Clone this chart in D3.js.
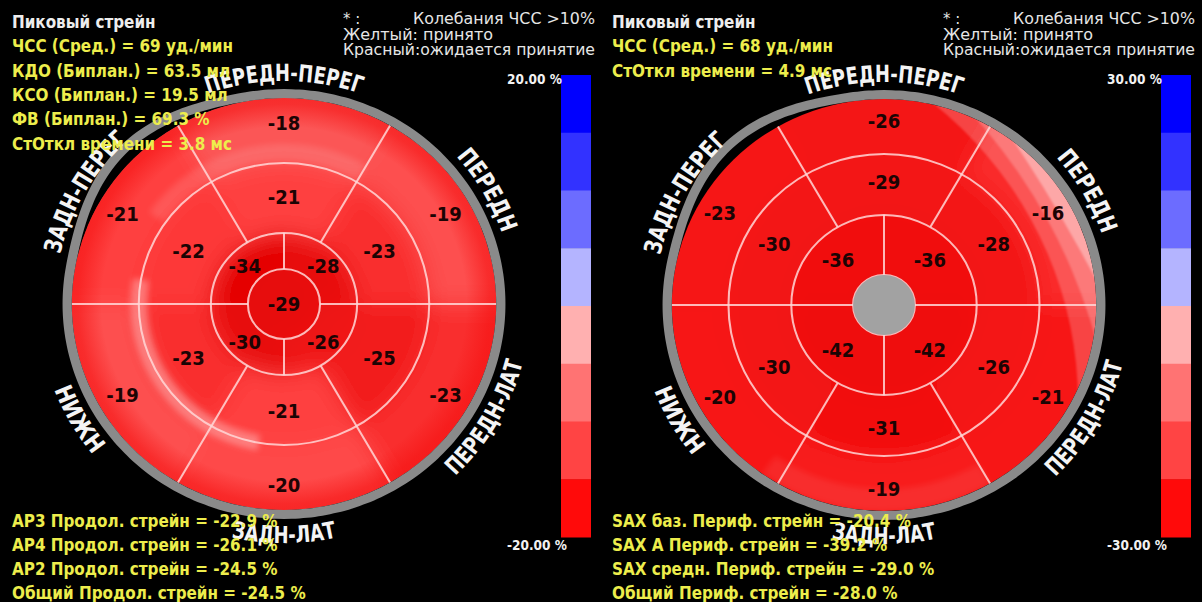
<!DOCTYPE html>
<html><head><meta charset="utf-8">
<script src="https://cdn.jsdelivr.net/npm/d3@7"></script>
<style>
html,body{margin:0;padding:0;background:#000;overflow:hidden}
svg{display:block}
</style></head><body>
<svg id="chart" width="1202" height="602"></svg>
<script>
// Wall order around each ring, clockwise from the top
const wallNames = ["ПЕРЕДН-ПЕРЕГ", "ПЕРЕДН", "ПЕРЕДН-ЛАТ", "ЗАДН-ЛАТ", "НИЖН", "ЗАДН-ПЕРЕГ"];

// Longitudinal peak strain, % (left bullseye)
const longBasal  = [-18, -19, -23, -20, -19, -21];
const longMid    = [-21, -23, -25, -21, -23, -22];
const longApical = [-28, -26, -30, -34];   // quadrants clockwise from upper right
const longApex   = -29;

// Circumferential peak strain, % (right bullseye)
const circBasal  = [-26, -16, -21, -19, -20, -23];
const circMid    = [-29, -28, -26, -31, -30, -30];
const circApical = [-36, -42, -42, -36];

// Colour bar limits, %
const longScaleMax = 20;
const circScaleMax = 30;

const longInfoLabels = ["ЧСС (Сред.)", "КДО (Биплан.)", "КСО (Биплан.)", "ФВ (Биплан.)", "СтОткл времени"];
const longInfoValues = [69, 63.5, 19.5, 69.3, 3.8];
const longInfoUnits  = ["уд./мин", "мл", "мл", "%", "мс"];
const circInfoLabels = ["ЧСС (Сред.)", "СтОткл времени"];
const circInfoValues = [68, 4.9];
const circInfoUnits  = ["уд./мин", "мс"];

const longGlobalLabels = ["АР3 Продол. стрейн", "АР4 Продол. стрейн", "АР2 Продол. стрейн", "Общий Продол. стрейн"];
const longGlobalValues = [-22.9, -26.1, -24.5, -24.5];
const circGlobalLabels = ["SAX баз. Периф. стрейн", "SAX A Периф. стрейн", "SAX средн. Периф. стрейн", "Общий Периф. стрейн"];
const circGlobalValues = [-20.4, -39.2, -29.0, -28.0];

const legendMarks = ["* :", "", ""];
const legendTexts = ["Колебания ЧСС >10%", "Желтый: принято", "Красный:ожидается принятие"];

// Eight colour-bar steps, top (+max) to bottom (-max)
const colorbarSteps = ["#0000ff", "#3232ff", "#6c6cff", "#b4b4ff", "#ffb0b0", "#ff7373", "#ff4444", "#ff0a0a"];

// ---------------------------------------------------------------------------
const FONT = "'DejaVu Sans Condensed','DejaVu Sans',sans-serif";
const svg = d3.select("#chart");
const defs = svg.append("defs");
svg.append("rect").attr("width", 1202).attr("height", 602).attr("fill", "#000");

const sx = 1.03;                       // slight horizontal stretch of the discs
const sectorAngle = d3.scaleLinear().domain([0, 6]).range([0, 2 * Math.PI]);
const quadAngle = d3.scaleLinear().domain([0, 4]).range([0, 2 * Math.PI]);
const arc = d3.arc();
const rad = Math.PI / 180;

function blurFilter(id, sd) {
  defs.append("filter").attr("id", id)
    .attr("filterUnits", "userSpaceOnUse").attr("x", -320).attr("y", -320).attr("width", 640).attr("height", 640)
    .append("feGaussianBlur").attr("stdDeviation", sd);
}
blurFilter("soft", 11);
blurFilter("soft2", 3);
blurFilter("soft3", 1.2);

const rim = defs.append("radialGradient").attr("id", "rim").attr("gradientUnits", "userSpaceOnUse")
  .attr("cx", 0).attr("cy", 0).attr("r", 206);
rim.append("stop").attr("offset", 0.86).attr("stop-color", "#f51010").attr("stop-opacity", 0);
rim.append("stop").attr("offset", 0.97).attr("stop-color", "#f51010").attr("stop-opacity", 0.55);
rim.append("stop").attr("offset", 1).attr("stop-color", "#f51010").attr("stop-opacity", 0.6);

function polar(r, a) { // a: d3 angle (clockwise from 12 o'clock)
  return [sx * r * Math.sin(a), -r * Math.cos(a)];
}

function drawBullseye(o) {
  const g = svg.append("g").attr("transform", `translate(${o.cx},${o.cy})`);
  const shape = g.append("g").attr("transform", `scale(${sx},1)`);
  const R = o.R;

  defs.append("clipPath").attr("id", o.id + "-disc").append("circle").attr("r", R);
  const wrap = shape.append("g").attr("clip-path", `url(#${o.id}-disc)`);
  const fill = wrap.append("g").attr("filter", "url(#soft)");

  fill.append("circle").attr("r", R + 40).attr("fill", o.color(d3.mean(o.basal)));
  fill.selectAll("path.b").data(o.basal).join("path").attr("class", "b")
    .attr("d", (v, i) => arc({innerRadius: o.rMid, outerRadius: R + 40,
      startAngle: sectorAngle(i - 0.5), endAngle: sectorAngle(i + 0.5)}))
    .attr("fill", v => o.color(v));
  fill.selectAll("path.m").data(o.mid).join("path").attr("class", "m")
    .attr("d", (v, i) => arc({innerRadius: o.rApical, outerRadius: o.rMid,
      startAngle: sectorAngle(i - 0.5), endAngle: sectorAngle(i + 0.5)}))
    .attr("fill", v => o.color(v));
  fill.selectAll("path.a").data(o.apical).join("path").attr("class", "a")
    .attr("d", (v, j) => arc({innerRadius: o.rApex, outerRadius: o.rApical,
      startAngle: quadAngle(j), endAngle: quadAngle(j + 1)}))
    .attr("fill", v => o.color(v));
  fill.append("circle").attr("r", o.rApex)
    .attr("fill", o.color(o.apex != null ? o.apex : d3.mean(o.apical)));

  if (o.rimShade) wrap.append("circle").attr("r", R).attr("fill", "url(#rim)");

  // gloss bands
  (o.bands || []).forEach(b => {
    wrap.append("path").attr("filter", "url(#soft2)")
      .attr("d", arc({innerRadius: b.r0, outerRadius: b.r1, startAngle: b.a0 * rad, endAngle: b.a1 * rad}))
      .attr("fill", "#fff").attr("opacity", b.op);
  });
  (o.crescents || []).forEach(c => {
    // disc minus an offset circle, leaving a crescent of max width c.w toward direction c.dir
    const u = c.dir * rad, phi = c.half * rad;
    const d = (R * R - (R - c.w) * (R - c.w)) / (2 * (R - c.w) - 2 * R * Math.cos(phi));
    const R2 = R - c.w + d;
    const ox = -d * Math.sin(u), oy = d * Math.cos(u);
    const p = d3.path();
    p.moveTo(-400, -400); p.lineTo(400, -400); p.lineTo(400, 400); p.lineTo(-400, 400); p.closePath();
    p.moveTo(ox + R2, oy); p.arc(ox, oy, R2, 0, 2 * Math.PI);
    wrap.append("path").attr("d", p.toString()).attr("fill-rule", "evenodd")
      .attr("fill", "#fff").attr("opacity", c.op).attr("filter", "url(#soft3)");
  });

  // segment borders
  const lineCol = "rgba(255,215,215,0.85)";
  [o.rApex, o.rApical, o.rMid].forEach(r => shape.append("circle").attr("r", r)
    .attr("fill", "none").attr("stroke", lineCol).attr("stroke-width", 2));
  const spokes = [];
  d3.range(6).forEach(i => {
    const a = sectorAngle(i + 0.5);
    spokes.push([a, (i === 1 || i === 4) ? o.rApex : o.rApical, R]);
  });
  [0, 2].forEach(j => spokes.push([quadAngle(j), o.rApex, o.rApical]));
  shape.selectAll("line.sp").data(spokes).join("line").attr("class", "sp")
    .attr("x1", d => d[1] * Math.sin(d[0])).attr("y1", d => -d[1] * Math.cos(d[0]))
    .attr("x2", d => d[2] * Math.sin(d[0])).attr("y2", d => -d[2] * Math.cos(d[0]))
    .attr("stroke", lineCol).attr("stroke-width", 2);

  if (o.apex == null) shape.append("circle").attr("r", o.rApex).attr("fill", "#a2a2a2");

  // outer grey rim, lifted off the disc at the upper left
  const bump = a => {
    const t = (a - o.bumpFrom) / (o.bumpTo - o.bumpFrom);
    return (t > 0 && t < 1) ? o.bumpH * Math.pow(Math.sin(Math.PI * t), 2) : 0;
  };
  const pts = d3.range(0, 360, 2).map(deg => ({a: deg * rad, r: R + 4.5 + bump(deg)}));
  shape.append("path").datum(pts)
    .attr("d", d3.lineRadial().angle(d => d.a).radius(d => d.r).curve(d3.curveCardinalClosed))
    .attr("fill", "none").attr("stroke", "#8a8a8a").attr("stroke-width", 9);

  // segment values
  const lab = [];
  o.basal.forEach((v, i) => lab.push([v, polar(o.lbBasal, sectorAngle(i))]));
  o.mid.forEach((v, i) => lab.push([v, polar(o.lbMid, sectorAngle(i))]));
  o.apical.forEach((v, j) => lab.push([v, polar(o.lbApical, quadAngle(j + 0.5))]));
  if (o.apex != null) lab.push([o.apex, [0, 0]]);
  g.selectAll("text.v").data(lab).join("text").attr("class", "v")
    .attr("x", d => d[1][0]).attr("y", d => d[1][1])
    .attr("text-anchor", "middle").attr("dominant-baseline", "central")
    .attr("font-family", FONT).attr("font-weight", "bold").attr("font-size", 20)
    .attr("fill", "#1c0404").text(d => String(d[0]));
  return shape;
}

// Curved wall names; widths along the arc, px
const wallLabelLengths = [155, 92, 137, 106, 78, 137];

function wallLabels(shape, id) {
  wallNames.forEach((name, i) => {
    const theta = 90 - 60 * i;          // math angle of wall centre
    const top = Math.sin(theta * rad) > 0.1;
    const r = top ? 223 : 239;
    const t1 = top ? theta + 50 : theta - 50, t2 = top ? theta - 50 : theta + 50;
    const x1 = r * Math.cos(t1 * rad), y1 = -r * Math.sin(t1 * rad);
    const x2 = r * Math.cos(t2 * rad), y2 = -r * Math.sin(t2 * rad);
    const pid = `${id}-wall${i}`;
    defs.append("path").attr("id", pid)
      .attr("d", `M${x1},${y1} A${r},${r} 0 0 ${top ? 1 : 0} ${x2},${y2}`);
    shape.append("text").attr("font-family", FONT).attr("font-weight", "bold")
      .attr("font-size", 23.5).attr("fill", "#f4f4f4")
      .append("textPath").attr("href", `#${pid}`).attr("startOffset", "50%")
      .attr("text-anchor", "middle").text(name)
      .attr("textLength", wallLabelLengths[i] / sx).attr("lengthAdjust", "spacingAndGlyphs");
  });
}

function colorbar(x0, max) {
  const y = d3.scaleLinear().domain([max, -max]).range([75, 537]);
  const step = (2 * max) / colorbarSteps.length;
  svg.append("g").selectAll("rect").data(colorbarSteps).join("rect")
    .attr("x", x0 + 561).attr("width", 30)
    .attr("y", (c, i) => y(max - i * step)).attr("height", (c, i) => y(max - (i + 1) * step) - y(max - i * step) + 0.5)
    .attr("fill", c => c);
  const fmt = v => v.toFixed(2) + " %";
  svg.append("text").attr("x", x0 + 507).attr("y", 84).text(fmt(max))
    .attr("font-family", FONT).attr("font-weight", "bold").attr("font-size", 13.5).attr("fill", "#f2f2f2");
  svg.append("text").attr("x", x0 + 507).attr("y", 550).text(fmt(-max))
    .attr("font-family", FONT).attr("font-weight", "bold").attr("font-size", 13.5).attr("fill", "#f2f2f2");
}

function textBlock(x0, labels, values, units, globals, gvalues) {
  const tb = svg.append("g").attr("font-family", FONT).attr("font-weight", "bold").attr("font-size", 16.9);
  tb.append("text").attr("x", x0 + 12).attr("y", 28).attr("fill", "#ededed").text("Пиковый стрейн");
  tb.selectAll("text.i").data(labels).join("text").attr("class", "i")
    .attr("x", x0 + 12).attr("y", (d, i) => 28 + 24.3 * (i + 1)).attr("fill", "#eded4c")
    .text((d, i) => `${d} = ${values[i]} ${units[i]}`);
  tb.selectAll("text.g").data(globals).join("text").attr("class", "g")
    .attr("x", x0 + 12).attr("y", (d, i) => 527 + 24 * i).attr("fill", "#eded4c")
    .text((d, i) => `${d} = ${gvalues[i].toFixed(1)} %`);
  const lg = svg.append("g").attr("font-family", FONT).attr("font-size", 16.5).attr("fill", "#e6e6e6");
  lg.selectAll("text.m").data(legendMarks).join("text").attr("class", "m")
    .attr("x", x0 + 343).attr("y", (d, i) => 24 + 15.5 * i).text(d => d);
  lg.selectAll("text.t").data(legendTexts).join("text").attr("class", "t")
    .attr("x", (d, i) => x0 + (i === 0 ? 413 : 343)).attr("y", (d, i) => 24 + 15.5 * i).text(d => d)
    .each(function (d, i) {
      const target = [182, 150, 252][i];
      d3.select(this).attr("textLength", target).attr("lengthAdjust", "spacingAndGlyphs");
    });
}

// Colour mapping of strain, relative to each bar's range
const longColor = d3.scaleLinear().domain([-34, -28, -25, -22, -20, -18])
  .range(["#e40606", "#e80a0a", "#f21a1a", "#fd3838", "#fe4a4a", "#fb5656"]).clamp(true);
const circColor = d3.scaleLinear().domain([-42, -26, -20, -16])
  .range(["#ef0d0d", "#f41313", "#f71919", "#fa2c2c"]).clamp(true);

const leftShape = drawBullseye({
  id: "long", cx: 284, cy: 304, R: 206, rMid: 141, rApical: 71, rApex: 35,
  basal: longBasal, mid: longMid, apical: longApical, apex: longApex, color: longColor,
  lbBasal: 181, lbMid: 107, lbApical: 54, rimShade: true,
  bands: [{r0: 133, r1: 149, a0: -170, a1: -80, op: 0.3}, {r0: 142, r1: 160, a0: -55, a1: 30, op: 0.12}],
  bumpFrom: 280, bumpTo: 350, bumpH: 9
});
const rightShape = drawBullseye({
  id: "circ", cx: 884, cy: 305, R: 206, rMid: 151, rApical: 90, rApex: 30,
  basal: circBasal, mid: circMid, apical: circApical, apex: null, color: circColor,
  lbBasal: 184, lbMid: 123, lbApical: 63, rimShade: false,
  crescents: [{w: 40, half: 50, dir: 64, op: 0.2}, {w: 26, half: 36, dir: 62, op: 0.22}, {w: 13, half: 22, dir: 60, op: 0.35}],
  bands: [{r0: 184, r1: 206, a0: 150, a1: 215, op: 0.08}],
  bumpFrom: 282, bumpTo: 352, bumpH: 9
});

textBlock(0, longInfoLabels, longInfoValues, longInfoUnits, longGlobalLabels, longGlobalValues);
textBlock(600, circInfoLabels, circInfoValues, circInfoUnits, circGlobalLabels, circGlobalValues);

wallLabels(leftShape, "long");
wallLabels(rightShape, "circ");

colorbar(0, longScaleMax);
colorbar(600, circScaleMax);
</script>
</body></html>
